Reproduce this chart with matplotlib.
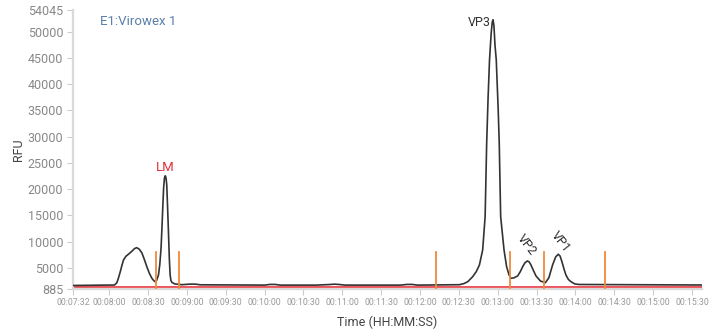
import matplotlib
matplotlib.use("Agg")
import matplotlib.pyplot as plt

plt.rcParams['font.family'] = ['Roboto', 'DejaVu Sans']

# Trace (time in seconds, RFU)
trace_t = [452, 484.0, 485.8, 487.0, 488.5, 489.8, 491.0, 492.8, 494.8, 497.7, 499.6, 501.3,
           503.2, 505.2, 507.1, 509.0, 511.0, 512.9, 514.3, 515.4, 516.6,
           518.0, 519.0, 520.0, 520.7, 521.4, 522.0, 522.6, 523.0, 523.4, 523.9, 524.4,
           525.0, 525.7, 526.4, 527.0, 527.6, 528.3, 530.5, 536.0,
           540.5, 543.9, 547.5, 550.1, 600, 604, 608, 612, 640, 650, 654, 658, 662,
           705, 710, 714, 718, 750.5, 753.8, 756.9, 760.7, 763.5, 765.9, 768.4, 770.3, 771.5,
           772.6, 773.7, 775.0, 775.8, 776.4, 777.1, 777.9, 778.9, 780.4, 781.2, 782.3,
           784.9, 786.9, 788.6, 790.0, 792.5, 795.4,
           797.5, 799.3, 801.0, 802.9, 804.3, 805.7, 807.7, 809.6, 813.0, 816.8, 819.5, 822.4,
           824.8, 826.8, 828.2, 829.6, 831.2, 832.7, 834.6, 836.6,
           839.5, 842.8, 937.8]
trace_v = [1650, 1740, 2150, 3000, 4280, 5500, 6510, 7200, 7600, 8230, 8700, 8850,
           8550, 7850, 6600, 5230, 3950, 3020, 2600, 2370, 2650,
           3650, 5600, 8800, 12700, 17000, 20300, 22090, 22480, 22530, 22000, 20810,
           16800, 11900, 6700, 3650, 2650, 2260, 1950, 1800,
           1880, 1920, 1880, 1780, 1720, 1850, 1850, 1720, 1720, 1830, 1900, 1830, 1720,
           1720, 1850, 1850, 1720, 1800, 2000, 2370, 3330, 4300, 5560, 8420, 14770, 28820,
           37500, 44650, 49800, 51800, 52280, 51200, 47500, 44650, 35120, 28820, 14770,
           8420, 5230, 3800, 3020, 3100, 3460,
           4300, 5230, 5950, 6320, 6150, 5560, 4450, 3460, 2500, 2180, 3100, 5560,
           7100, 7600, 7250, 6190, 4800, 3650, 2800, 2370,
           1950, 1840, 1740]

baseline_v = 1450
marker_t = [516.2, 533.9, 732.4, 789.8, 816.0, 863.0]
marker_lo, marker_hi = 1100, 8100

peak_names = ['LM', 'VP3', 'VP2', 'VP1']

x_ticks = [452] + list(range(480, 931, 30))
def fmt(s):
    return "%02d:%02d:%02d" % (s // 3600, (s % 3600) // 60, s % 60)
x_labels = [fmt(s) for s in x_ticks]
y_ticks = [885, 5000, 10000, 15000, 20000, 25000, 30000, 35000, 40000, 45000, 50000, 54045]

fig = plt.figure(figsize=(7.18, 3.31), dpi=100)
ax = fig.add_axes([0.1017, 0.1254, 0.8760, 0.8429])

ax.plot(trace_t, trace_v, color='#333333', lw=1.2, zorder=3,
        solid_joinstyle='round', solid_capstyle='round')
ax.axhline(baseline_v, color='#e8202a', lw=1.1, zorder=2)
for t in marker_t:
    ax.plot([t, t], [marker_lo, marker_hi], color='#f08a3c', lw=1.3, zorder=4)

ax.set_xlim(452, 937.8)
ax.set_ylim(885, 54045)
ax.set_xticks(x_ticks)
ax.set_xticklabels(x_labels, fontsize=6.3, color='#999999')
ax.set_yticks(y_ticks)
ax.set_yticklabels([str(v) for v in y_ticks], fontsize=9, color='#888888')

for s in ['top', 'right']:
    ax.spines[s].set_visible(False)
for s in ['left', 'bottom']:
    ax.spines[s].set_color('#d9d9d9')
    ax.spines[s].set_linewidth(1.6)
ax.tick_params(axis='both', colors='#cccccc', length=4, width=0.8)
ax.tick_params(axis='x', labelcolor='#999999', pad=2)
ax.tick_params(axis='y', labelcolor='#888888', pad=3)

ax.set_xlabel('Time (HH:MM:SS)', fontsize=9, color='#444444', labelpad=6)
ax.set_ylabel('RFU', fontsize=9, color='#444444', labelpad=2)

ax.text(0.043, 0.985, 'E1:Virowex 1', transform=ax.transAxes, fontsize=9.5,
        color='#5a7fa8', va='top', ha='left')

ax.text(523.0, 22900, peak_names[0], color='#e0303a', fontsize=9.5, ha='center', va='bottom')
ax.text(775.0, 51800, peak_names[1], color='#333333', fontsize=9, ha='right', va='center')
ax.text(802.5, 9300, peak_names[2], color='#333333', fontsize=9, ha='center', va='center', rotation=-52)
ax.text(829.0, 9900, peak_names[3], color='#333333', fontsize=9, ha='center', va='center', rotation=-52)

fig.savefig('out.png', dpi=100)
